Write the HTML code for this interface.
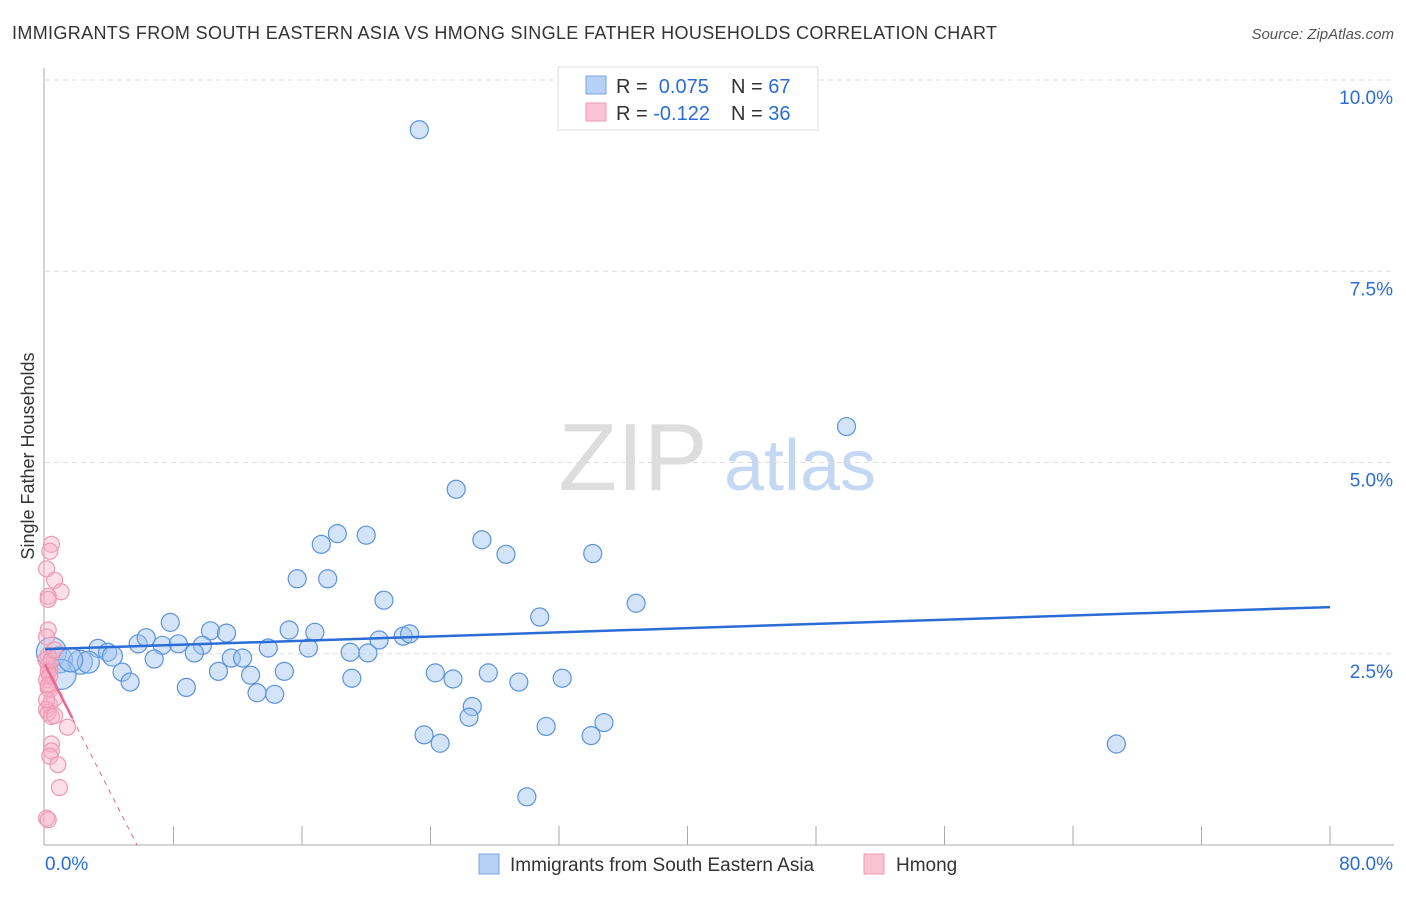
<!DOCTYPE html>
<html><head><meta charset="utf-8"><style>
body{margin:0;background:#fff;font-family:"Liberation Sans",sans-serif}
svg text{font-family:"Liberation Sans",sans-serif}
</style></head><body>
<svg width="1406" height="892" id="c">
<text x="12" y="39" font-size="18" textLength="985" fill="#333">IMMIGRANTS FROM SOUTH EASTERN ASIA VS HMONG SINGLE FATHER HOUSEHOLDS CORRELATION CHART</text>
<text x="1394" y="39" font-size="15" fill="#555" font-style="italic" text-anchor="end">Source: ZipAtlas.com</text>
<text x="34" y="456" font-size="18" fill="#333" transform="rotate(-90 34 456)" text-anchor="middle">Single Father Households</text>
<g><text x="633" y="490" font-size="96" font-family="Liberation Serif" fill="#ddd" text-anchor="middle">ZIP</text><text x="800" y="490" font-size="72" fill="#c5d8f3" text-anchor="middle">atlas</text></g>
<g id="grid"></g><g id="axes"></g><g id="pts"></g><g id="lines"></g>
<g>
<rect x="558" y="67" width="260" height="63" fill="#fff" stroke="#ddd"/>
<rect x="586" y="76" width="20" height="18" fill="#b7d0f5" stroke="#7aa5e0"/>
<rect x="586" y="103" width="20" height="18" fill="#fac3d3" stroke="#ee99b2"/>
<text x="616" y="93" font-size="20" fill="#333">R = <tspan fill="#2a6dd6">&#160;0.075</tspan></text><text x="731" y="93" font-size="20" fill="#333">N = <tspan fill="#2a6dd6">67</tspan></text>
<text x="616" y="120" font-size="20" fill="#333">R = <tspan fill="#2a6dd6">-0.122</tspan></text><text x="731" y="120" font-size="20" fill="#333">N = <tspan fill="#2a6dd6">36</tspan></text>
</g>
<g>
<rect x="479" y="854" width="20" height="20" fill="#b7d0f5" stroke="#7aa5e0"/><text x="510" y="871" font-size="19" fill="#333">Immigrants from South Eastern Asia</text>
<rect x="864" y="854" width="20" height="20" fill="#fac3d3" stroke="#ee99b2"/><text x="896" y="871" font-size="19" fill="#333">Hmong</text>
</g>
</svg>
<script>
const yTicks=[2.5,5.0,7.5,10.0];
const xLabels=["0.0%","80.0%"];
const blueX=[23.3,49.9,25.6,18.2,20.0,17.2,27.2,28.7,34.1,15.7,17.6,21.1,30.8,36.8,7.8,10.3,11.3,15.2,16.8,20.8,22.3,22.7,3.3,3.9,5.8,6.3,7.3,8.3,9.8,9.3,6.8,11.6,12.3,13.9,16.4,19.0,20.1,0.4,0.9,2.2,2.7,4.2,1.0,4.8,5.3,8.8,10.8,12.8,14.9,13.2,14.3,19.1,24.3,25.4,27.6,29.5,32.2,26.6,26.4,31.2,34.8,34.0,23.6,24.6,66.7,30.0,1.6];
const blueY=[9.35,5.47,4.65,4.07,4.05,3.93,3.99,3.80,3.81,3.48,3.48,3.20,2.98,3.16,2.91,2.80,2.77,2.81,2.78,2.68,2.73,2.76,2.57,2.52,2.63,2.71,2.61,2.63,2.61,2.51,2.431,2.444,2.444,2.575,2.575,2.52,2.51,2.52,2.42,2.39,2.39,2.47,2.23,2.26,2.13,2.06,2.27,2.22,2.27,1.99,1.97,2.18,2.25,2.17,2.25,2.13,2.18,1.81,1.67,1.55,1.60,1.43,1.44,1.33,1.32,0.63,2.42];
const blueR=[9,9,9,9,9,9,9,9,9,9,9,9,9,9,9,9,9,9,9,9,9,9,9,9,9,9,9,9,9,9,9,9,9,9,9,9,9,15,13,12,11,10,15,9,9,9,9,9,9,9,9,9,9,9,9,9,9,9,9,9,9,9,9,9,9,9,12];
const pinkX=[0.4,0.3,0.1,0.6,1.0,0.2,0.2,0.2,0.1,0.2,0.2,0.3,0.1,0.2,0.3,0.3,0.1,0.2,0.4,0.6,1.4,0.4,0.4,0.3,0.8,0.9,0.1,0.2,0.05,0.4,0.6,0.2,0.3,0.2,0.6,0.1];
const pinkY=[3.93,3.84,3.61,3.46,3.31,3.25,3.21,2.81,2.72,2.48,2.35,2.29,2.16,2.05,2.03,1.83,1.77,1.73,1.68,1.69,1.54,1.32,1.23,1.16,1.05,0.75,0.35,0.33,2.42,2.42,2.55,2.26,2.21,2.09,1.92,1.90];
const blueTrend=[2.56,3.11], pinkTrend=[2.36,-30.6];
const X=v=>45+v/80*1285, Y=v=>845-v*76.5;
const ns="http://www.w3.org/2000/svg";
function mk(t,a,p){const e=document.createElementNS(ns,t);for(const k in a)e.setAttribute(k,a[k]);document.getElementById(p).appendChild(e);return e;}
yTicks.forEach(t=>{const l=mk('line',{x1:45,x2:1394,y1:Y(t),y2:Y(t),stroke:'#ddd','stroke-dasharray':'5,4'},'grid');


const tx=mk('text',{x:1393,y:Y(t)+24,'font-size':19,fill:'#2a6dd6','text-anchor':'end'},'grid');tx.textContent=t.toFixed(1)+'%';

});
mk('line',{x1:44,x2:44,y1:68,y2:845,stroke:'#aaa'},'axes');
mk('line',{x1:44,x2:1394,y1:845,y2:845,stroke:'#aaa'},'axes');
for(let i=1;i<=10;i++){mk('line',{x1:X(i*8),x2:X(i*8),y1:826,y2:845,stroke:'#aaa'},'axes');}
[[0,45,'start'],[80,1393,'end']].forEach((d,i)=>{const t=mk('text',{x:d[1],y:870,'font-size':19,fill:'#2a6dd6','text-anchor':d[2]},'axes');t.textContent=xLabels[i];

});
blueX.forEach((v,i)=>{const c=mk('circle',{cx:X(v),cy:Y(blueY[i]),r:blueR[i],fill:'rgba(160,195,240,0.45)',stroke:'#5b93dc','stroke-width':1.2},'pts');

});
pinkX.forEach((v,i)=>{const c=mk('circle',{cx:X(v),cy:Y(pinkY[i]),r:8,fill:'rgba(248,175,198,0.4)',stroke:'#ee99b2','stroke-width':1.2},'pts');

});
let l=mk('line',{x1:X(0),y1:Y(blueTrend[0]),x2:X(80),y2:Y(blueTrend[1]),stroke:'#2a6dd6','stroke-width':2.5},'lines');


const ps=v=>pinkTrend[0]+(pinkTrend[1]-pinkTrend[0])*v/80;
l=mk('line',{x1:X(0),y1:Y(ps(0)),x2:X(1.7),y2:Y(ps(1.7)),stroke:'#e8668f','stroke-width':2.5},'lines');


const xe=pinkTrend[0]/(pinkTrend[0]-pinkTrend[1])*80;
l=mk('line',{x1:X(1.7),y1:Y(ps(1.7)),x2:X(xe),y2:Y(0),stroke:'#e8668f','stroke-width':1,'stroke-dasharray':'5,5'},'lines');


</script>
</body></html>
